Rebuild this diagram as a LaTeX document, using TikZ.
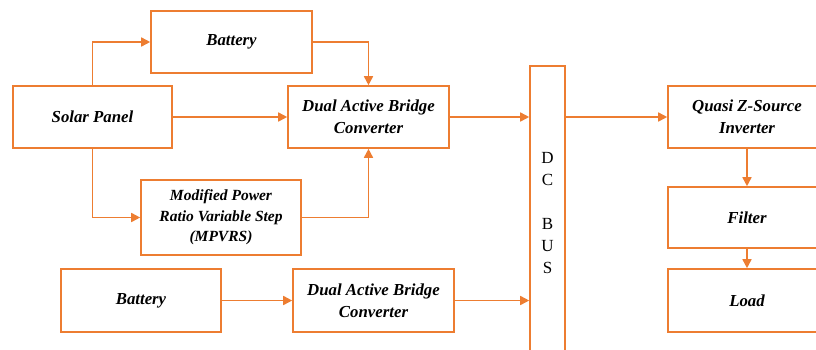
\documentclass[tikz,border=0pt]{standalone}
\usepackage{fontspec}
\setmainfont{Liberation Serif}
\usetikzlibrary{arrows.meta}
\definecolor{org}{RGB}{237,125,49}
\begin{document}
\begin{tikzpicture}[x=1pt,y=-1pt,
  box/.style={draw=org,line width=1.6pt,inner sep=0pt,align=center,
    font=\fontsize{16.8}{22}\selectfont\bfseries\itshape},
  conn/.style={draw=org,line width=1.6pt,-{Triangle[length=9pt,width=9pt]}}]
\clip (0,0) rectangle (816,349);
\fill[white] (0,0) rectangle (816,349);
\node[box,minimum width=161pt,minimum height=62pt] (bat1) at (231.5,42) {Battery};
\node[box,minimum width=159pt,minimum height=62pt] (solar) at (92.5,117) {Solar Panel};
\node[box,minimum width=161pt,minimum height=62pt] (dab1) at (368.5,117) {Dual Active Bridge\\Converter};
\node[box,minimum width=160pt,minimum height=75pt,font=\fontsize{15.5}{20.5}\selectfont\bfseries\itshape] (mpvrs) at (221,217.5) {Modified Power\\Ratio Variable Step\\(MPVRS)};
\node[box,minimum width=160pt,minimum height=63pt] (bat2) at (141,300.5) {Battery};
\node[box,minimum width=161pt,minimum height=63pt] (dab2) at (373.5,300.5) {Dual Active Bridge\\Converter};
\node[box,minimum width=35pt,minimum height=294pt,font=\fontsize{17}{22}\selectfont] (bus) at (547.5,213) {D\\C\\\mbox{}\\B\\U\\S};
\node[box,minimum width=158pt,minimum height=62pt] (qzsi) at (747,117) {Quasi Z-Source\\Inverter};
\node[box,minimum width=158pt,minimum height=61pt] (filter) at (747,217.5) {Filter};
\node[box,minimum width=158pt,minimum height=63pt] (load) at (747,300.5) {Load};
\draw[conn] (solar.north) |- (bat1.west);
\draw[conn] (bat1.east) -| (dab1.north);
\draw[conn] (solar.east) -- (dab1.west);
\draw[conn] (solar.south) |- (mpvrs.west);
\draw[conn] (mpvrs.east) -| (dab1.south);
\draw[conn] (bat2.east) -- (dab2.west);
\draw[conn] (dab1.east) -- (bus.west |- dab1.east);
\draw[conn] (dab2.east) -- (bus.west |- dab2.east);
\draw[conn] (bus.east |- qzsi.west) -- (qzsi.west);
\draw[conn] (qzsi.south) -- (filter.north);
\draw[conn] (filter.south) -- (load.north);
\end{tikzpicture}
\end{document}
